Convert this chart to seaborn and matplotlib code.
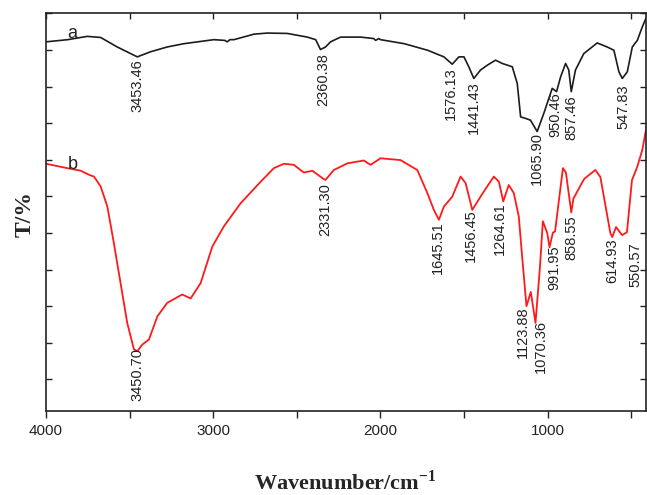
import numpy as np
import pandas as pd
import matplotlib
matplotlib.use("Agg")
import matplotlib.pyplot as plt
import seaborn as sns
from matplotlib.ticker import MultipleLocator, NullFormatter, FixedLocator

# ---------------- data ----------------
wn_a = [4000, 3870, 3753, 3673, 3574, 3454, 3374, 3275, 3175, 2996, 2930, 2916, 2900, 2876,
        2756, 2677, 2557, 2437, 2387, 2358, 2328, 2298, 2238, 2118, 2040, 2028, 2010, 1999,
        1857, 1717, 1620, 1570, 1530, 1500, 1471, 1441, 1401, 1361, 1311, 1271, 1211, 1181,
        1161, 1132, 1102, 1062, 1022, 972, 946, 922, 892, 873, 858, 833, 783, 703, 643, 603,
        573, 553, 523, 493, 463, 433, 403]
t_a = [92.2, 92.8, 93.7, 93.4, 90.8, 88.1, 89.5, 90.8, 91.7, 92.8, 92.6, 92.2, 92.8, 92.8,
       94.3, 94.6, 94.5, 93.5, 92.8, 90.1, 90.8, 92.2, 93.5, 93.5, 93.1, 92.6, 93.1, 92.8,
       91.7, 89.9, 88.1, 86.1, 88.1, 88.1, 85.4, 82.2, 84.5, 85.8, 87.2, 86.3, 85.4, 80.8,
       71.7, 71.3, 70.8, 67.7, 72.7, 79.5, 78.6, 82.6, 86.3, 84.5, 78.6, 84.5, 89.0, 91.9, 90.8, 89.9,
       84.0, 82.2, 84.0, 90.8, 92.6, 96.3, 99.5]

wn_b = [4000, 3873, 3793, 3743, 3713, 3673, 3633, 3594, 3554, 3514, 3474, 3454, 3424, 3384,
        3334, 3275, 3185, 3135, 3075, 3005, 2936, 2836, 2716, 2637, 2577, 2517, 2458, 2407,
        2338, 2328, 2278, 2198, 2099, 2059, 1999, 1879, 1779, 1719, 1680, 1650, 1620, 1570,
        1520, 1490, 1450, 1401, 1361, 1321, 1291, 1265, 1232, 1202, 1172, 1152, 1126, 1100,
        1072, 1045, 1028, 1002, 988, 968, 955, 908, 890, 858, 845, 794, 780, 714, 684,
        624, 613, 590, 554, 525, 495, 463, 433, 404]
t_b = [58.9, 57.7, 57.0, 55.9, 55.4, 52.7, 47.2, 37.2, 26.3, 15.4, 8.2, 7.7, 9.5, 10.9,
       17.2, 20.9, 23.2, 22.1, 26.3, 36.3, 41.8, 48.1, 54.0, 57.7, 58.9, 58.6, 56.5, 57.0,
       54.7, 54.5, 57.2, 59.0, 59.8, 58.6, 60.4, 59.9, 57.2, 50.9, 46.3, 43.6, 47.2, 49.9,
       55.4, 53.6, 46.3, 49.9, 52.7, 55.4, 54.0, 48.6, 53.1, 50.9, 44.5, 33.6, 20.0, 23.9,
       15.4, 30.9, 43.2, 40.0, 36.1, 40.1, 40.4, 57.7, 56.5, 45.6, 49.4, 53.7, 54.8, 57.2, 55.3,
       39.9, 38.9, 41.6, 39.4, 40.2, 54.4, 58.1, 62.7, 70.0]

peaks_a = [3453.46, 2360.38, 1576.13, 1441.43, 1065.90, 950.46, 857.46, 547.83]
labels_a = ["3453.46", "2360.38", "1576.13", "1441.43", "1065.90", "950.46", "857.46", "547.83"]
peaks_b = [3450.70, 2331.30, 1645.51, 1456.45, 1264.61, 1123.88, 1070.36, 991.95,
           858.55, 614.93, 550.57]
labels_b = ["3450.70", "2331.30", "1645.51", "1456.45", "1264.61", "1123.88", "1070.36",
            "991.95", "858.55", "614.93", "550.57"]
x_ticks = [4000, 3000, 2000, 1000]
x_ticklabels = ["4000", "3000", "2000", "1000"]
curve_names = ["a", "b"]

# label offsets in pixels (layout only)
off_a = [(0, -1), (3, -3), (0, -3), (0, -2), (0, -1), (0, 0), (0, -3), (0, -6)]
off_b = [(0, 3), (0, -2), (-2, -2), (0, -3), (-3, 0), (-4, 0), (5, 1), (5, -1),
         (0, -3), (0, -1), (13, -6)]

# ---------------- style ----------------
sns.set_style("ticks")
plt.rcParams["font.family"] = ["Liberation Sans", "DejaVu Sans"]

fig = plt.figure(figsize=(6.47, 4.95), dpi=100)
ax = fig.add_axes([46 / 647, (495 - 410.5) / 495, (645.5 - 46) / 647, (410.5 - 13.3) / 495])

df_a = pd.DataFrame({"wn": wn_a, "T": t_a})
df_b = pd.DataFrame({"wn": wn_b, "T": t_b})
sns.lineplot(data=df_a, x="wn", y="T", ax=ax, color="#1c1c1c", lw=1.2,
             sort=False, estimator=None)
sns.lineplot(data=df_b, x="wn", y="T", ax=ax, color="#ff1a1a", lw=1.3,
             sort=False, estimator=None)

ax.set_xlim(4000, 414)
ax.set_ylim(-8.5, 100)

def annotate(peaks, labels, offs, wn, t):
    wn_r = np.array(wn)[::-1]
    t_r = np.array(t)[::-1]
    for p, lab, (dx, dy) in zip(peaks, labels, offs):
        y = np.interp(p, wn_r, t_r)
        ax.annotate(lab, xy=(p, y), xytext=(dx, dy - 1), textcoords="offset pixels",
                    rotation=90, ha="center", va="top", fontsize=10.5, color="#222222")

annotate(peaks_a, labels_a, off_a, wn_a, t_a)
annotate(peaks_b, labels_b, off_b, wn_b, t_b)

for name, wn, t, dy in [(curve_names[0], wn_a, t_a, -3), (curve_names[1], wn_b, t_b, -4)]:
    y = np.interp(3840, np.array(wn)[::-1], np.array(t)[::-1])
    ax.annotate(name, xy=(3840, y), xytext=(0, dy), textcoords="offset pixels",
                ha="center", va="bottom", fontsize=13, color="#222222")

# ticks
ax.xaxis.set_major_locator(FixedLocator(x_ticks))
ax.set_xticklabels(x_ticklabels)
ax.xaxis.set_minor_locator(MultipleLocator(500))
ax.yaxis.set_major_locator(MultipleLocator(10))
ax.yaxis.set_major_formatter(NullFormatter())
ax.tick_params(axis="x", which="both", direction="out", length=5, width=1.0,
               labelsize=11, pad=5, colors="#222222", top=False)
ax.tick_params(axis="y", which="both", direction="in", length=4, width=1.0,
               left=True, right=True, colors="#222222")

# top inward ticks
ax2 = ax.twiny()
ax2.set_xlim(ax.get_xlim())
ax2.xaxis.set_major_locator(MultipleLocator(500))
ax2.xaxis.set_major_formatter(NullFormatter())
ax2.tick_params(axis="x", direction="in", length=4, width=1.0, colors="#222222",
                top=True, bottom=False, labeltop=False)
for s in ax2.spines.values():
    s.set_visible(False)

for s in ax.spines.values():
    s.set_linewidth(1.2)
    s.set_color("#222222")
    s.set_visible(True)

ax.set_xlabel("")
ax.set_ylabel("")
fig.text(345 / 647, 1 - 483 / 495, r"Wavenumber/cm$^{\mathregular{-1}}$", ha="center",
         va="center", fontsize=16, fontweight="bold", family="Liberation Serif")
fig.text(25 / 647, 1 - 214 / 495, "T/%", ha="center", va="center", rotation=90,
         fontsize=17, fontweight="bold", family="Liberation Serif")

fig.savefig("out.png", dpi=100)
